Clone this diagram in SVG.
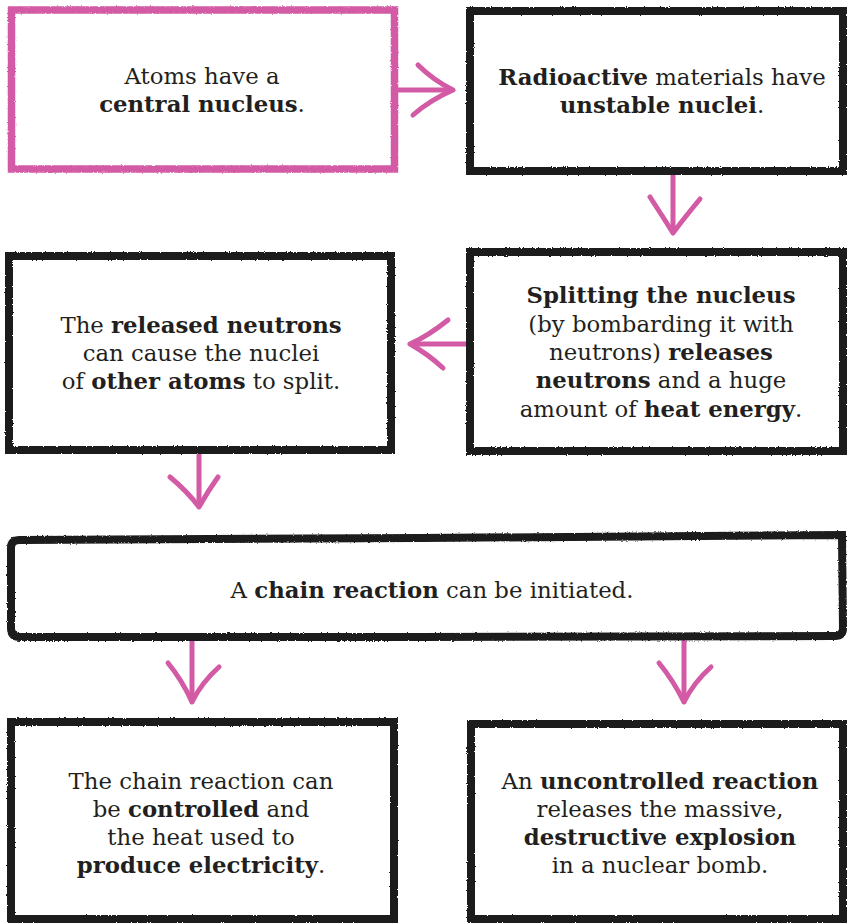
<svg xmlns="http://www.w3.org/2000/svg" width="847" height="923" viewBox="0 0 847 923">
  <style>
    .box { fill: #ffffff; stroke: #1c1a1b; stroke-width: 8; stroke-linejoin: miter; }
    .box-pink { fill: #ffffff; stroke: #d35aa4; stroke-width: 7.5; }
    .arrow { fill: none; stroke: #d35aa4; stroke-width: 5; stroke-linecap: round; stroke-linejoin: round; }
    .label { font-family: "DejaVu Serif", "Liberation Serif", serif; font-size: 22.8px; fill: #231f20; text-anchor: middle; }
    .b { font-weight: bold; }
  </style>
  <defs>
    <filter id="rough" x="-5%" y="-5%" width="110%" height="110%">
      <feTurbulence type="fractalNoise" baseFrequency="0.8" numOctaves="2" seed="3" result="noise"/>
      <feDisplacementMap in="SourceGraphic" in2="noise" scale="2.5" xChannelSelector="R" yChannelSelector="G"/>
    </filter>
  </defs>

  <rect width="847" height="923" fill="#ffffff"/>

  <!-- connectors -->
  <g id="connectors">
    <!-- atoms -> radioactive -->
    <path class="arrow" d="M398,90 L452,90"/>
    <path class="arrow" d="M418,65 Q433,80 453,90 M413,115 Q430,100 453,90"/>
    <!-- radioactive -> splitting -->
    <path class="arrow" d="M673,175 L673,231"/>
    <path class="arrow" d="M650,197 Q663,217 673,233 M700,199 Q685,217 673,233"/>
    <!-- splitting -> released neutrons -->
    <path class="arrow" d="M466,344 L412,344"/>
    <path class="arrow" d="M448,320 Q428,336 410,344 M443,368 Q428,354 410,344"/>
    <!-- released neutrons -> chain reaction -->
    <path class="arrow" d="M199,455 L199,505"/>
    <path class="arrow" d="M170,477 Q187,491 199,507 M218,477 Q208,491 199,507"/>
    <!-- chain reaction -> controlled -->
    <path class="arrow" d="M192,640 L192,700"/>
    <path class="arrow" d="M168,663 Q182,680 192,702 M219,667 Q202,682 192,702"/>
    <!-- chain reaction -> uncontrolled -->
    <path class="arrow" d="M684,640 L684,700"/>
    <path class="arrow" d="M659,663 Q673,680 684,702 M711,667 Q694,682 684,702"/>
  </g>

  <!-- nodes -->
  <g id="node-atoms">
    <rect class="box-pink" x="11.5" y="10" width="383" height="159" filter="url(#rough)"/>
    <text class="label" x="202" y="84">Atoms have a</text>
    <text class="label" x="202" y="112"><tspan class="b">central nucleus</tspan>.</text>
  </g>

  <g id="node-radioactive">
    <rect class="box" x="470" y="11" width="373" height="160" filter="url(#rough)"/>
    <text class="label" x="662" y="85"><tspan class="b">Radioactive</tspan> materials have</text>
    <text class="label" x="662" y="113"><tspan class="b">unstable nuclei</tspan>.</text>
  </g>

  <g id="node-released">
    <rect class="box" x="9" y="256" width="382" height="194" filter="url(#rough)"/>
    <text class="label" x="201" y="333">The <tspan class="b">released neutrons</tspan></text>
    <text class="label" x="201" y="361">can cause the nuclei</text>
    <text class="label" x="201" y="389">of <tspan class="b">other atoms</tspan> to split.</text>
  </g>

  <g id="node-splitting">
    <rect class="box" x="470" y="252" width="373" height="199" filter="url(#rough)"/>
    <text class="label" x="661" y="303"><tspan class="b">Splitting the nucleus</tspan></text>
    <text class="label" x="661" y="332">(by bombarding it with</text>
    <text class="label" x="661" y="360">neutrons) <tspan class="b">releases</tspan></text>
    <text class="label" x="661" y="388"><tspan class="b">neutrons</tspan> and a huge</text>
    <text class="label" x="661" y="417">amount of <tspan class="b">heat energy</tspan>.</text>
  </g>

  <g id="node-chain">
    <path class="box" d="M11,548 Q11,540 20,540 L420,538 L842,535 L843,628 Q843,636 835,636 L420,637 L20,637 Q11,637 11,628 Z" filter="url(#rough)"/>
    <text class="label" x="432" y="598">A <tspan class="b">chain reaction</tspan> can be initiated.</text>
  </g>

  <g id="node-controlled">
    <rect class="box" x="11" y="722" width="383" height="197" filter="url(#rough)"/>
    <text class="label" x="201" y="789">The chain reaction can</text>
    <text class="label" x="201" y="817">be <tspan class="b">controlled</tspan> and</text>
    <text class="label" x="201" y="845">the heat used to</text>
    <text class="label" x="201" y="873"><tspan class="b">produce electricity</tspan>.</text>
  </g>

  <g id="node-uncontrolled">
    <rect class="box" x="471" y="724" width="372" height="195" filter="url(#rough)"/>
    <text class="label" x="660" y="789">An <tspan class="b">uncontrolled reaction</tspan></text>
    <text class="label" x="660" y="817">releases the massive,</text>
    <text class="label" x="660" y="845"><tspan class="b">destructive explosion</tspan></text>
    <text class="label" x="660" y="873">in a nuclear bomb.</text>
  </g>
</svg>
